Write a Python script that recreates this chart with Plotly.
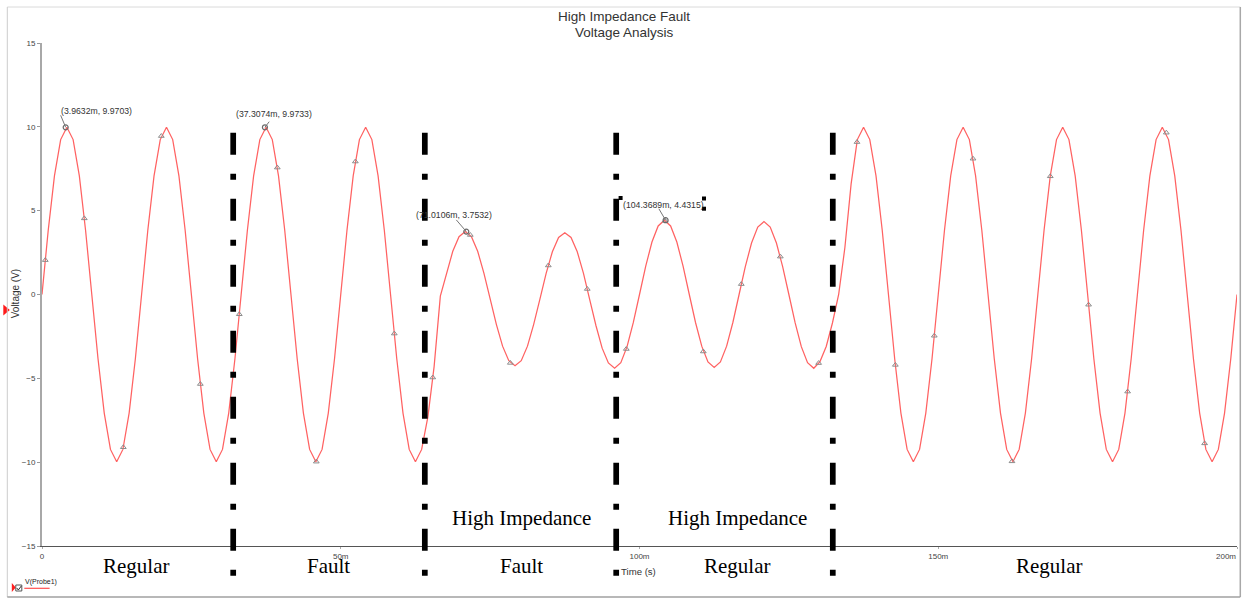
import plotly.graph_objects as go

# ---------------------------------------------------------------
# Probe 1 transient samples: time (ms) and node voltage (V)
# ---------------------------------------------------------------
time_ms = [
    0, 1.042, 2.083, 3.125, 4.167, 5.208, 6.25, 7.292, 8.333, 9.375, 10.417, 11.458, 12.5, 13.542, 14.583, 15.625,
    16.667, 17.708, 18.75, 19.792, 20.833, 21.875, 22.917, 23.958, 25, 26.042, 27.083, 28.125, 29.167, 30.208, 31.25, 32.292,
    33.333, 34.375, 35.417, 36.458, 37.5, 38.542, 39.583, 40.625, 41.667, 42.708, 43.75, 44.792, 45.833, 46.875, 47.917, 48.958,
    50, 51.042, 52.083, 53.125, 54.167, 55.208, 56.25, 57.292, 58.333, 59.375, 60.417, 61.458, 62.5, 63.542, 64.583, 65.625,
    66.667, 67.708, 68.75, 69.792, 70.833, 71.875, 72.917, 73.958, 75, 76.042, 77.083, 78.125, 79.167, 80.208, 81.25, 82.292,
    83.333, 84.375, 85.417, 86.458, 87.5, 88.542, 89.583, 90.625, 91.667, 92.708, 93.75, 94.792, 95.833, 96.875, 97.917, 98.958,
    100, 101.042, 102.083, 103.125, 104.167, 105.208, 106.25, 107.292, 108.333, 109.375, 110.417, 111.458, 112.5, 113.542, 114.583, 115.625,
    116.667, 117.708, 118.75, 119.792, 120.833, 121.875, 122.917, 123.958, 125, 126.042, 127.083, 128.125, 129.167, 130.208, 131.25, 132.292,
    133.333, 134.375, 135.417, 136.458, 137.5, 138.542, 139.583, 140.625, 141.667, 142.708, 143.75, 144.792, 145.833, 146.875, 147.917, 148.958,
    150, 151.042, 152.083, 153.125, 154.167, 155.208, 156.25, 157.292, 158.333, 159.375, 160.417, 161.458, 162.5, 163.542, 164.583, 165.625,
    166.667, 167.708, 168.75, 169.792, 170.833, 171.875, 172.917, 173.958, 175, 176.042, 177.083, 178.125, 179.167, 180.208, 181.25, 182.292,
    183.333, 184.375, 185.417, 186.458, 187.5, 188.542, 189.583, 190.625, 191.667, 192.708, 193.75, 194.792, 195.833, 196.875, 197.917, 198.958,
    200,
]

voltage = [
    0, 3.83, 7.07, 9.24, 9.97, 9.24, 7.07, 3.83, 0, -3.83, -7.07, -9.24, -9.97, -9.24, -7.07, -3.83,
    0, 3.83, 7.07, 9.24, 9.97, 9.24, 7.07, 3.83, 0, -3.83, -7.07, -9.24, -9.97, -9.24, -7.07, -3.83,
    0, 3.83, 7.07, 9.24, 9.97, 9.24, 7.07, 3.83, 0, -3.83, -7.07, -9.24, -9.97, -9.24, -7.07, -3.83,
    0, 3.83, 7.07, 9.24, 9.97, 9.24, 7.07, 3.83, 0, -3.83, -7.07, -9.24, -9.97, -9.24, -7.30, -4.30,
    -0.10, 1.28, 2.58, 3.45, 3.75, 3.45, 2.58, 1.28, -0.25, -1.78, -3.08, -3.95, -4.25, -3.95, -3.08, -1.78,
    -0.28, 1.26, 2.55, 3.40, 3.68, 3.40, 2.55, 1.26, -0.30, -1.85, -3.20, -4.08, -4.40, -4.07, -3.11, -1.68,
    0, 1.69, 3.13, 4.09, 4.43, 4.09, 3.13, 1.69, 0, -1.67, -3.08, -4.02, -4.35, -4.02, -3.08, -1.67,
    0, 1.66, 3.07, 4.02, 4.35, 4.02, 3.07, 1.66, 0, -1.68, -3.11, -4.07, -4.40, -4.00, -3.10, -1.70,
    0, 2.80, 6.60, 9.24, 9.97, 9.24, 7.07, 3.83, 0, -3.83, -7.07, -9.24, -9.97, -9.24, -7.07, -3.83,
    0, 3.83, 7.07, 9.24, 9.97, 9.24, 7.07, 3.83, 0, -3.83, -7.07, -9.24, -9.97, -9.24, -7.07, -3.83,
    0, 3.83, 7.07, 9.24, 9.97, 9.24, 7.07, 3.83, 0, -3.83, -7.07, -9.24, -9.97, -9.24, -7.07, -3.83,
    0, 3.83, 7.07, 9.24, 9.97, 9.24, 7.07, 3.83, 0, -3.83, -7.07, -9.24, -9.97, -9.24, -7.07, -3.83,
    0,
]

# Trace point markers drawn along the probe waveform
marker_time_ms = [0.55, 7.08, 13.61, 19.97, 26.5, 33.02, 39.38, 45.91, 52.44, 58.96,
                  65.4, 71.68, 78.38, 84.74, 91.26, 97.79, 104.3, 110.68, 117.04, 123.57,
                  129.98, 136.4, 142.82, 149.34, 155.82, 162.34, 168.75, 175.16, 181.69, 188.17,
                  194.58]
marker_voltage = [2.05, 4.54, -9.11, 9.45, -5.34, -1.18, 7.57, -9.97, 7.93, -2.33,
                  -4.95, 3.55, -4.08, 1.73, 0.33, -3.25, 4.39, -3.40, 0.62, 2.26,
                  -4.09, 9.09, -4.20, -2.46, 8.10, -9.95, 7.05, -0.61, -5.79, 9.65,
                  -8.88]

# Cursor read-outs (time in ms, voltage in V)
cursor_time_ms = [3.9632, 37.3074, 71.0106, 104.3689]
cursor_voltage = [9.9703, 9.9733, 3.7532, 4.4315]

# Boundaries between operating regions (ms)
boundary_time_ms = [32.0, 64.07, 96.1, 132.35]

# Region captions
region_bottom = ["Regular", "Fault", "Fault", "Regular", "Regular"]
region_top = ["", "", "High Impedance", "High Impedance", ""]

x_ticks_ms = [0, 50, 100, 150, 200]
x_tick_labels = ["0", "50m", "100m", "150m", "200m"]
y_ticks = [-15, -10, -5, 0, 5, 10, 15]

title_lines = ["High Impedance Fault", "Voltage Analysis"]

# ---------------------------------------------------------------
# Layout geometry
# ---------------------------------------------------------------
W, H = 1243, 601
ML, MR, MT, MB = 41.7, 6.3, 43, 55
PW, PH = W - ML - MR, H - MT - MB


def fx(px):
    return (px - ML) / PW


def fy(py):
    return (H - MB - py) / PH


to_s = 1e-3
t_s = [t * to_s for t in time_ms]

fig = go.Figure()

fig.add_trace(go.Scatter(
    x=t_s, y=voltage, mode="lines",
    line=dict(color="#ff6262", width=1.25),
    name="V(Probe1)", showlegend=False, hoverinfo="skip",
))

fig.add_trace(go.Scatter(
    x=[t * to_s for t in marker_time_ms], y=marker_voltage, mode="markers",
    marker=dict(symbol="triangle-up-open", size=5, color="#8c8c8c", line=dict(width=1)),
    showlegend=False, hoverinfo="skip",
))

fig.add_trace(go.Scatter(
    x=[t * to_s for t in cursor_time_ms], y=cursor_voltage, mode="markers",
    marker=dict(symbol="circle-open", size=5, color="#6a6a6a", line=dict(width=1.2)),
    showlegend=False, hoverinfo="skip",
))

shapes = []
annotations = []

# chart title, two lines
title_font = dict(family="Liberation Sans", size=13.5, color="#333333")
for line_text, ty in zip(title_lines, [16, 32.3]):
    annotations.append(dict(
        x=fx(623.8), y=fy(ty), xref="paper", yref="paper", text=line_text,
        showarrow=False, xanchor="center", yanchor="middle", font=title_font,
    ))

# cursor labels with short leader lines
label_shift = [(-5.7, 16), (-29.7, 13.3), (-51.5, 16.4), (-44, 15.7)]
leader_end = [(-5, 12), (4.3, 5.6), (-10, 11.7), (-6.7, 11.4)]
for t, v, (dx, dy), (lx, ly) in zip(cursor_time_ms, cursor_voltage, label_shift, leader_end):
    annotations.append(dict(
        x=t * to_s, y=v, xref="x", yref="y",
        text=f"({t:.4f}m, {v:.4f})", showarrow=False,
        xanchor="left", yanchor="middle", xshift=dx, yshift=dy, borderpad=0,
        font=dict(family="Liberation Sans", size=8.7, color="#333333"),
    ))
    shapes.append(dict(
        type="line", xref="x", yref="y",
        xsizemode="pixel", ysizemode="pixel",
        xanchor=t * to_s, yanchor=v,
        x0=0, y0=0, x1=lx, y1=ly,
        line=dict(color="#777777", width=1),
    ))

# dash-dot region separators
for b in boundary_time_ms:
    shapes.append(dict(
        type="line", xref="x", yref="paper",
        x0=b * to_s, x1=b * to_s, y0=fy(132.7), y1=fy(577),
        line=dict(color="black", width=5.7, dash="22px,19px,6px,19px"),
    ))

# region captions
caption_x_ms = [15.8, 48.0, 80.2, 116.4, 168.5]
serif = dict(family="Liberation Serif", size=21, color="black")
for name_b, name_t, cx in zip(region_bottom, region_top, caption_x_ms):
    annotations.append(dict(
        x=cx * to_s, y=fy(566), xref="x", yref="paper", text=name_b,
        showarrow=False, xanchor="center", yanchor="middle", font=serif,
    ))
    if name_t:
        annotations.append(dict(
            x=cx * to_s, y=fy(518), xref="x", yref="paper", text=name_t,
            showarrow=False, xanchor="center", yanchor="middle", font=serif,
        ))

tick_font = dict(family="Liberation Sans", size=8, color="#444444")

# last time tick label sits flush against the right end of the axis
annotations.append(dict(
    x=x_ticks_ms[-1] * to_s, y=fy(556.5), xref="x", yref="paper", text=x_tick_labels[-1],
    showarrow=False, xanchor="right", yanchor="middle", borderpad=0, font=tick_font,
))

# axis titles
annotations.append(dict(
    x=fx(15), y=fy(294), xref="paper", yref="paper", text="Voltage (V)",
    textangle=-90, showarrow=False, xanchor="center", yanchor="middle",
    font=dict(family="Liberation Sans", size=10, color="#333333"),
))
annotations.append(dict(
    x=fx(638.3), y=fy(571), xref="paper", yref="paper", text="Time (s)",
    showarrow=False, xanchor="center", yanchor="middle",
    font=dict(family="Liberation Sans", size=9.6, color="#333333"),
))

# legend entry
annotations.append(dict(
    x=fx(24), y=fy(582.3), xref="paper", yref="paper", text="V(Probe1)",
    showarrow=False, xanchor="left", yanchor="middle", borderpad=0,
    font=dict(family="Liberation Sans", size=7, color="#222222"),
))
shapes.append(dict(type="line", xref="paper", yref="paper",
                   x0=fx(24), x1=fx(49.3), y0=fy(588.3), y1=fy(588.3),
                   line=dict(color="#ff4d4d", width=1.2)))
shapes.append(dict(type="path", xref="paper", yref="paper",
                   path=f"M {fx(11.5)},{fy(583)} L {fx(15.5)},{fy(587.5)} L {fx(11.5)},{fy(592)} Z",
                   fillcolor="#ff2020", line=dict(width=0)))
shapes.append(dict(type="rect", xref="paper", yref="paper",
                   x0=fx(15.5), x1=fx(21.5), y0=fy(591), y1=fy(585),
                   line=dict(color="#555555", width=1), fillcolor="white"))
shapes.append(dict(type="path", xref="paper", yref="paper",
                   path=f"M {fx(16.5)},{fy(588)} L {fx(18)},{fy(590)} L {fx(21)},{fy(586)}",
                   line=dict(color="#333333", width=1)))

# trace cursor pointer at the left edge
shapes.append(dict(type="path", xref="paper", yref="paper",
                   path=f"M {fx(3)},{fy(304.5)} L {fx(9.5)},{fy(310)} L {fx(3)},{fy(315.5)} Z",
                   fillcolor="#ff1a1a", line=dict(width=0)))

# label drag handles
for (hx0, hy0) in [(618.3, 196), (701.7, 196.5), (701.7, 206.7)]:
    shapes.append(dict(type="rect", xref="paper", yref="paper",
                       x0=fx(hx0), x1=fx(hx0 + 4), y0=fy(hy0 + 4), y1=fy(hy0),
                       fillcolor="black", line=dict(width=0)))

# window frame
frame = [((7, 7), (1240, 7), "#dadada", 1),
         ((7, 7), (7, 597), "#cccccc", 1),
         ((1240, 7), (1240, 597), "#a8a8a8", 1.5),
         ((7, 597), (1240, 597), "#a0a0a0", 1.5)]
for (ax0, ay0), (ax1, ay1), col, wd in frame:
    shapes.append(dict(type="line", xref="paper", yref="paper",
                       x0=fx(ax0), y0=fy(ay0), x1=fx(ax1), y1=fy(ay1),
                       line=dict(color=col, width=wd)))

fig.update_layout(
    width=W, height=H,
    margin=dict(l=ML, r=MR, t=MT, b=MB, pad=0),
    paper_bgcolor="white", plot_bgcolor="white",
    xaxis=dict(
        range=[0, 0.2],
        tickvals=[t * to_s for t in x_ticks_ms],
        ticktext=x_tick_labels[:-1] + [""],
        showgrid=False, zeroline=False, showline=True, linecolor="#555555", linewidth=1,
        ticks="outside", ticklen=2, tickcolor="#aaaaaa", tickfont=tick_font,
    ),
    yaxis=dict(
        range=[-15, 15], tickvals=y_ticks,
        showgrid=False, zeroline=False, showline=True, linecolor="#a8a8a8", linewidth=2,
        ticks="outside", ticklen=3, tickcolor="#999999", tickfont=tick_font,
    ),
    shapes=shapes,
    annotations=annotations,
    showlegend=False,
    hovermode=False,
)

fig.write_html("out.html", config={"displayModeBar": False})
